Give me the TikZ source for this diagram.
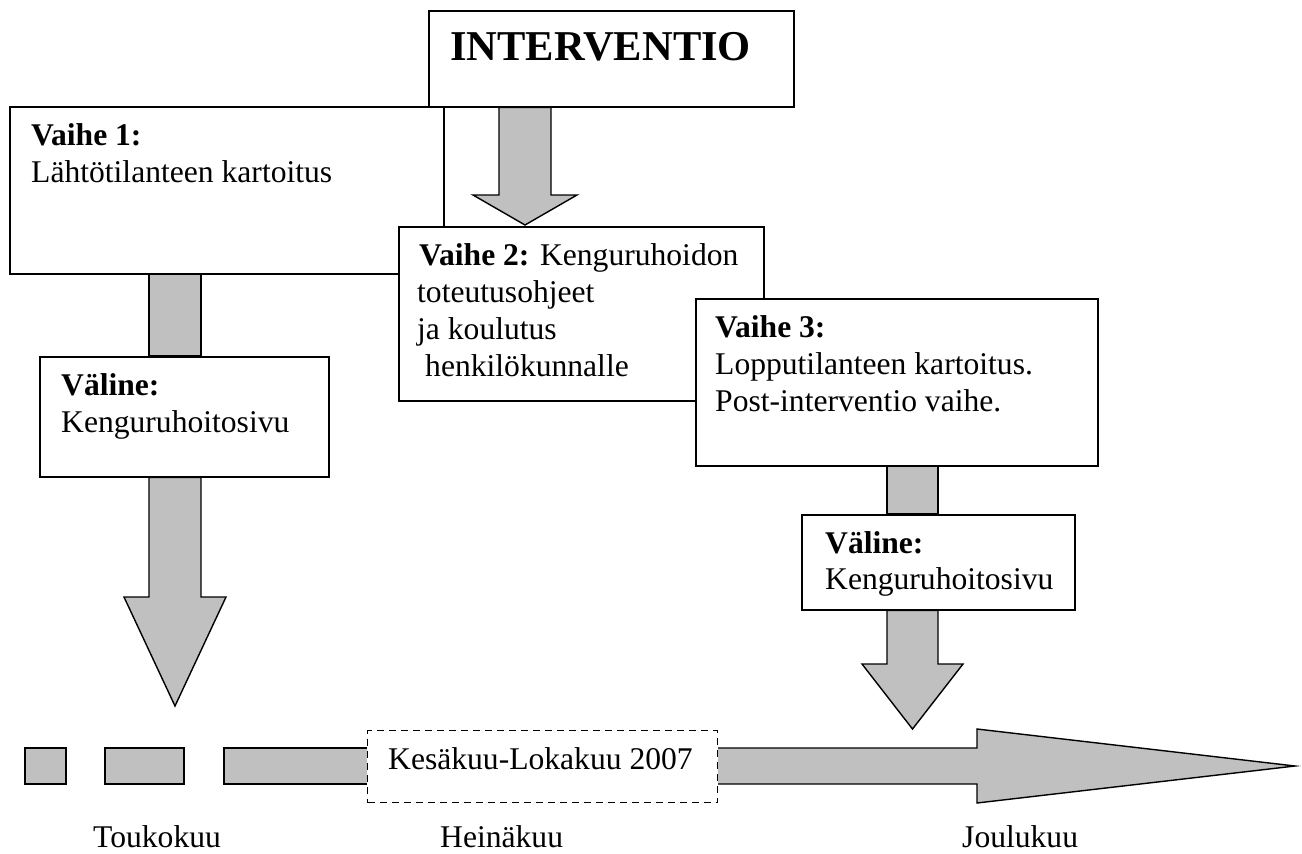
\documentclass[tikz,border=0pt]{standalone}
\usepackage{fontspec}
\setmainfont{Liberation Serif}
\usetikzlibrary{calc}
\definecolor{arrowgray}{HTML}{C0C0C0}
\tikzset{
  box/.style={draw=black, line width=1.5pt, fill=white, inner sep=0pt, anchor=north west},
  dbox/.style={box, dash pattern=on 7pt off 5pt, line width=1.2pt},
  txt/.style={anchor=base west, inner sep=0pt, font=\fontsize{31.6pt}{37pt}\selectfont},
  bigtxt/.style={anchor=base west, inner sep=0pt, font=\fontsize{42.5pt}{50pt}\selectfont\bfseries},
  blk/.style={draw=black, line width=1.4pt, fill=arrowgray, line join=miter},
  blkfill/.style={fill=arrowgray},
  blkline/.style={draw=black, line width=1.4pt},
}
\begin{document}
\begin{tikzpicture}[x=1pt,y=-1pt]
\useasboundingbox (0,0) rectangle (1302,854);
% boxes top part
\node[box, minimum width=434pt, minimum height=167pt] (v1) at (9,106) {};
\node[box, minimum width=365pt, minimum height=96pt] (int) at (428,10) {};
\node[bigtxt] (tint) at (450,60) {INTERVENTIO};
\draw[blk] (499,0 |- int.south) -- (499,195) -- (473,195) -- (525,225) -- (577,195) -- (551,195) -- (551,0 |- int.south) -- cycle;
\node[box, minimum width=365pt, minimum height=174pt] (v2) at (398,226) {};
\node[box, minimum width=402pt, minimum height=167pt] (v3) at (695,298) {};
% left column
\draw[blk] (149,0 |- v1.south) rectangle (201,356);
\node[box, minimum width=289pt, minimum height=120pt] (vL) at (39,356) {};
\draw[blk] (149,0 |- vL.south) -- (149,597) -- (124,597) -- (175,706) -- (226,597) -- (201,597) -- (201,0 |- vL.south) -- cycle;
% right column
\draw[blk] (887,0 |- v3.south) rectangle (938,514);
\node[box, minimum width=273pt, minimum height=95pt] (vR) at (801,514) {};
\draw[blk] (887,0 |- vR.south) -- (887,664) -- (862,664) -- (912.5,729) -- (963,664) -- (938,664) -- (938,0 |- vR.south) -- cycle;
% texts in boxes
\node[txt] (t1a) at (31,145) {\textbf{Vaihe 1:}};
\node[txt] (t1b) at (31,182) {Lähtötilanteen kartoitus};
\node[txt] (t2a) at (419,265) {\textbf{Vaihe 2:} Kenguruhoidon};
\node[txt] (t2b) at (417,302) {toteutusohjeet};
\node[txt] (t2c) at (417,339) {ja koulutus};
\node[txt] (t2d) at (425,376) {henkilökunnalle};
\node[txt] (t3a) at (715,337) {\textbf{Vaihe 3:}};
\node[txt] (t3b) at (715,374) {Lopputilanteen kartoitus.};
\node[txt] (t3c) at (715,411) {Post-interventio vaihe.};
\node[txt] (tLa) at (61,395) {\textbf{Väline:}};
\node[txt] (tLb) at (61,432) {Kenguruhoitosivu};
\node[txt] (tRa) at (825,553) {\textbf{Väline:}};
\node[txt] (tRb) at (825,589) {Kenguruhoitosivu};
% timeline
\draw[blk] (25,748) rectangle (66,784);
\draw[blk] (105,748) rectangle (184,784);
\fill[blkfill] (224,748) rectangle (367,784);
\draw[blkline] (367,748) -- (224,748) -- (224,784) -- (367,784);
\fill[blkfill] (717,748) -- (977,748) -- (977,729) -- (1295,766) -- (977,803) -- (977,784) -- (717,784) -- cycle;
\draw[blkline, line join=miter] (717,748) -- (977,748) -- (977,729) -- (1295,766) -- (977,803) -- (977,784) -- (717,784);
\node[dbox, minimum width=350pt, minimum height=72pt] (kes) at (367,730) {};
\node[txt] (tkes) at (388,769) {Kesäkuu-Lokakuu 2007};
\node[txt] (tmay) at (93,847) {Toukokuu};
\node[txt] (tjul) at (440,847) {Heinäkuu};
\node[txt] (tdec) at (962,847) {Joulukuu};
\end{tikzpicture}
\end{document}
